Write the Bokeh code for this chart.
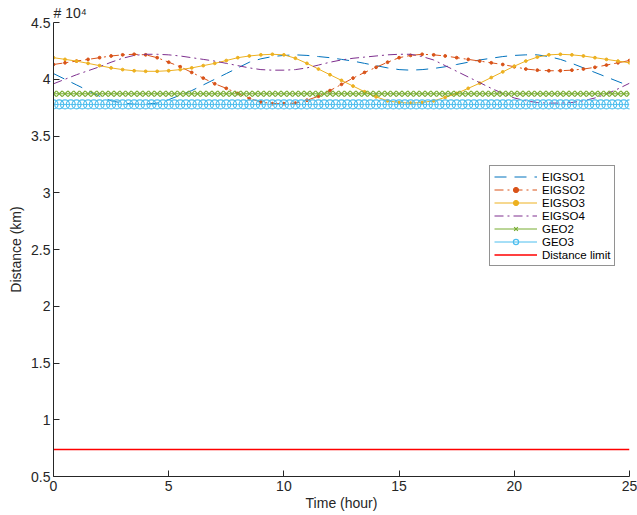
"""Distance of EIGSO and GEO satellites over one day."""
from bokeh.plotting import figure
from bokeh.models import Legend, LegendItem, FixedTicker, NumeralTickFormatter
from bokeh.embed import file_html
from bokeh.resources import INLINE

# time grid (hours)
hours = [i * 0.5 for i in range(51)]
hours_geo = [i * 0.25 for i in range(101)]

# distances in units of 1e4 km
eigso1 = [4.05, 4.00, 3.95, 3.90, 3.85, 3.81, 3.79, 3.78, 3.78, 3.79,
          3.82, 3.86, 3.90, 3.95, 4.00, 4.05, 4.10, 4.15, 4.18, 4.20,
          4.21, 4.215, 4.21, 4.20, 4.19, 4.175, 4.16, 4.14, 4.12, 4.10,
          4.085, 4.08, 4.085, 4.095, 4.11, 4.13, 4.15, 4.17, 4.185, 4.20,
          4.21, 4.215, 4.215, 4.20, 4.175, 4.14, 4.10, 4.06, 4.02, 3.98,
          3.94]
eigso2 = [4.13, 4.145, 4.16, 4.175, 4.19, 4.205, 4.215, 4.22, 4.215, 4.19,
          4.15, 4.11, 4.06, 4.01, 3.96, 3.92, 3.875, 3.83, 3.80, 3.785,
          3.785, 3.79, 3.815, 3.85, 3.90, 3.955, 4.01, 4.06, 4.105, 4.15,
          4.19, 4.21, 4.22, 4.215, 4.205, 4.19, 4.175, 4.16, 4.145, 4.13,
          4.11, 4.09, 4.08, 4.075, 4.075, 4.08, 4.09, 4.105, 4.125, 4.145,
          4.165]
eigso3 = [4.19, 4.175, 4.16, 4.14, 4.12, 4.10, 4.085, 4.075, 4.07, 4.07,
          4.075, 4.085, 4.10, 4.12, 4.14, 4.165, 4.19, 4.205, 4.215, 4.22,
          4.215, 4.185, 4.14, 4.09, 4.04, 3.99, 3.94, 3.89, 3.845, 3.81,
          3.795, 3.79, 3.795, 3.81, 3.84, 3.875, 3.92, 3.965, 4.015, 4.065,
          4.115, 4.16, 4.195, 4.215, 4.22, 4.215, 4.205, 4.19, 4.175, 4.16,
          4.145]
eigso4 = [3.96, 4.00, 4.04, 4.075, 4.11, 4.15, 4.185, 4.21, 4.22, 4.22,
          4.215, 4.205, 4.19, 4.175, 4.16, 4.14, 4.12, 4.10, 4.085, 4.08,
          4.08, 4.085, 4.10, 4.125, 4.15, 4.17, 4.185, 4.195, 4.205, 4.215,
          4.22, 4.22, 4.20, 4.17, 4.12, 4.07, 4.02, 3.97, 3.92, 3.875,
          3.835, 3.81, 3.795, 3.79, 3.79, 3.795, 3.81, 3.835, 3.87, 3.915,
          3.965]
geo2 = [3.872] * len(hours_geo)
geo3 = [3.778] * len(hours_geo)
limit_hours = [0, 25]
limit = [0.737, 0.737]

y_ticks = [0.5, 1, 1.5, 2, 2.5, 3, 3.5, 4, 4.5]
x_ticks = [0, 5, 10, 15, 20, 25]

FONT = "Liberation Sans"
INK = "#262626"

p = figure(width=637, height=515, x_range=(0, 25), y_range=(0.5, 4.5),
           output_backend="svg", toolbar_location=None,
           min_border_left=53, min_border_right=8,
           min_border_top=22, min_border_bottom=39)
p.outline_line_color = None
p.grid.visible = False

# exponent of the y axis, drawn as the title
p.title.text = "# 10\u2074"
p.title.align = "left"
p.title.text_font = FONT
p.title.text_font_size = "14px"
p.title.text_font_style = "normal"
p.title.text_color = INK
p.title.standoff = 3
p.title.offset = 0

for ax in (p.xaxis[0], p.yaxis[0]):
    ax.axis_line_color = INK
    ax.major_tick_line_color = INK
    ax.major_tick_in = 6
    ax.major_tick_out = 0
    ax.minor_tick_line_color = None
    ax.major_label_text_font = FONT
    ax.major_label_text_font_size = "14px"
    ax.major_label_text_color = INK
    ax.axis_label_text_font = FONT
    ax.axis_label_text_font_size = "14px"
    ax.axis_label_text_font_style = "normal"
    ax.axis_label_text_color = INK

p.xaxis.axis_label = "Time (hour)"
p.yaxis.axis_label = "Distance (km)"
p.xaxis.ticker = FixedTicker(ticks=x_ticks)
p.yaxis.ticker = FixedTicker(ticks=y_ticks)
p.yaxis.formatter = NumeralTickFormatter(format="0.[0]")
p.xaxis.major_label_standoff = 4
p.xaxis.axis_label_standoff = 1
p.yaxis.major_label_standoff = 3
p.yaxis.axis_label_standoff = 4

r1 = p.line(hours, eigso1, color="#0072BD", line_width=1, line_dash="12 8")
r2 = p.line(hours, eigso2, color="#D95319", line_width=1, line_dash="9 4 2 4")
r2m = p.scatter(hours, eigso2, color="#D95319", size=2.8, marker="circle")
r3 = p.line(hours, eigso3, color="#EDB120", line_width=1)
r3m = p.scatter(hours, eigso3, color="#EDB120", size=2.8, marker="circle")
r4 = p.line(hours, eigso4, color="#7E2F8E", line_width=1, line_dash="9 4 2 4")
r5 = p.line(hours_geo, geo2, color="#77AC30", line_width=1)
r5m = p.scatter(hours_geo, geo2, line_color="#77AC30", size=8, marker="x",
                line_width=1.2)
r6 = p.line(hours_geo, geo3, color="#4DBEEE", line_width=1)
r6m = p.scatter(hours_geo, geo3, line_color="#4DBEEE", fill_color=None,
                size=9, marker="circle", line_width=1.2)
r7 = p.line(limit_hours, limit, color="#FF0000", line_width=1.5)

legend = Legend(items=[
    LegendItem(label="EIGSO1", renderers=[r1]),
    LegendItem(label="EIGSO2", renderers=[r2, r2m]),
    LegendItem(label="EIGSO3", renderers=[r3, r3m]),
    LegendItem(label="EIGSO4", renderers=[r4]),
    LegendItem(label="GEO2", renderers=[r5, r5m]),
    LegendItem(label="GEO3", renderers=[r6, r6m]),
    LegendItem(label="Distance limit", renderers=[r7]),
], location=(436, 210))
legend.label_text_font = FONT
legend.label_text_font_size = "11.5px"
legend.label_text_color = "black"
legend.label_height = 13
legend.glyph_height = 13
legend.glyph_width = 43
legend.label_standoff = 5
legend.spacing = 0
legend.padding = 4
legend.margin = 0
legend.border_line_color = INK
legend.border_line_width = 1
legend.background_fill_alpha = 1
p.add_layout(legend)

open("out.html", "w").write(file_html(p, INLINE))
